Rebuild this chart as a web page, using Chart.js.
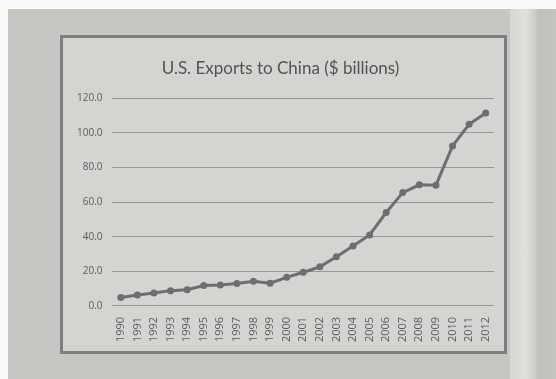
<!DOCTYPE html>
<html>
<head>
<meta charset="utf-8">
<script src="https://cdn.jsdelivr.net/npm/chart.js@4"></script>
<style>
    html, body { margin: 0; padding: 0; }
    body {
        width: 556px; height: 379px; overflow: hidden; position: relative;
        background: #c6c6c3;
    }
    #topStrip { position: absolute; left: 0; top: 0; width: 556px; height: 9px; background: #fafafa; }
    #leftStrip { position: absolute; left: 0; top: 0; width: 8px; height: 379px; background: #fafafa; }
    #rightPage {
        position: absolute; left: 510px; top: 9px; width: 46px; height: 370px;
        background: linear-gradient(to right, #d6d6d3, #e0e0dd 35%, #c0c0bd 65%, #c4c4c1);
    }
    #box {
        position: absolute; left: 60px; top: 35px; width: 441px; height: 313px;
        border: 3px solid #7e7e7c; background: #d4d4d1;
    }
    #box canvas { position: absolute; left: 0; top: 0; }
</style>
</head>
<body>
<div id="topStrip"></div>
<div id="leftStrip"></div>
<div id="rightPage"></div>
<div id="box"><canvas id="exportsChart" width="441" height="313"></canvas></div>
<script>
    // years on the x axis
    var years = ['1990','1991','1992','1993','1994','1995','1996','1997','1998','1999','2000','2001',
        '2002','2003','2004','2005','2006','2007','2008','2009','2010','2011','2012'];
    // exports, $ billions
    var exportsBn = [4.8, 6.3, 7.4, 8.8, 9.3, 11.7, 12.0, 12.9, 14.2, 13.1, 16.5, 19.4,
        22.6, 28.4, 34.6, 41.0, 54.0, 65.5, 70.0, 69.8, 92.5, 105.0, 111.5];
    var yTicks = [0, 20, 40, 60, 80, 100, 120];

    var ctx = document.getElementById('exportsChart').getContext('2d');
    var chart = new Chart(ctx, {
        type: 'line',
        data: {
            labels: years,
            datasets: [{
                label: 'U.S. Exports to China',
                data: exportsBn,
                borderColor: '#6e6e6c',
                backgroundColor: '#6e6e6c',
                borderWidth: 3,
                pointRadius: 3.5,
                pointBorderWidth: 0,
                tension: 0
            }]
        },
        options: {
            responsive: false,
            animation: false,
            layout: { padding: { left: 4, right: 10, top: 4, bottom: 6 } },
            plugins: {
                legend: { display: false },
                tooltip: { enabled: false },
                title: {
                    display: true,
                    text: 'U.S. Exports to China ($ billions)',
                    color: '#525250',
                    font: { family: 'Lato', size: 17, weight: 'normal' },
                    padding: { top: 16, bottom: 20 }
                }
            },
            scales: {
                x: {
                    offset: true,
                    grid: { display: false },
                    border: { display: false },
                    ticks: {
                        minRotation: 90, maxRotation: 90, autoSkip: false,
                        color: '#5c5c5a',
                        font: { family: 'Open Sans', size: 11 },
                        padding: 3
                    }
                },
                y: {
                    min: 0, max: 120,
                    afterBuildTicks: function (axis) {
                        axis.ticks = yTicks.map(function (v) { return { value: v }; });
                    },
                    grid: { color: '#979795', lineWidth: 1, drawTicks: false },
                    border: { display: false },
                    ticks: {
                        color: '#5c5c5a',
                        font: { family: 'Open Sans', size: 10 },
                        padding: 10,
                        callback: function (v) { return v.toFixed(1); }
                    }
                }
            }
        }
    });
</script>
</body>
</html>
